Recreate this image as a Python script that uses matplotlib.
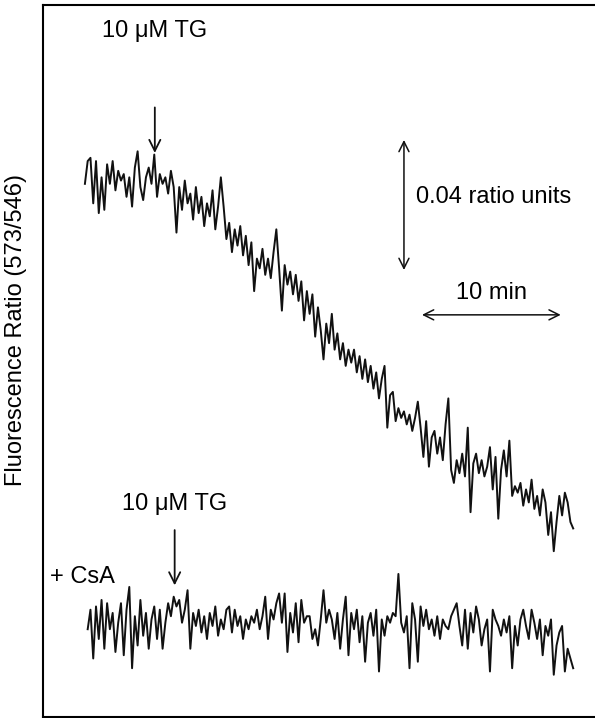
import numpy as np
import matplotlib
matplotlib.use("Agg")
import matplotlib.pyplot as plt

plt.rcParams['font.family'] = ['Liberation Sans', 'DejaVu Sans']

# fluorescence ratio traces, in units of 0.001 ratio (arbitrary offset)
# sampled every 0.2 min
dt = 0.2

# control: 10 uM TG added at ~5 min
trace_tg = [
    164, 171, 172, 158, 171, 155, 166, 156, 170, 164, 171, 162, 168, 165, 167, 160, 166,
    157, 169, 174, 163, 159, 166, 169, 164, 173, 160, 167, 164, 166, 161, 168, 163,
    149, 163, 156, 165, 158, 161, 153, 163, 155, 160, 151, 158, 154, 162, 150, 157, 166,
    157, 147, 152, 143, 150, 145, 151, 142, 148, 139, 146, 131, 141, 138, 144, 136,
    141, 135, 143, 150, 138, 125, 139, 133, 137, 130, 136, 128, 134, 122, 131,
    124, 130, 117, 126, 119, 110, 121, 115, 124, 113, 118, 110, 115, 108, 113,
    109, 113, 106, 111, 104, 110, 103, 108, 101, 106, 98, 104, 108, 89, 99,
    100, 91, 95, 92, 94, 90, 93, 88, 92, 97, 89, 80, 91, 77, 86,
    88, 81, 86, 79, 90, 98, 76, 72, 79, 75, 81, 74, 89, 63, 78, 81, 75, 79, 74, 77,
    83, 70, 80, 61, 76, 82, 74, 85, 68, 71, 69, 72, 65, 70, 66, 73, 64, 68, 62, 70,
    66, 56, 63, 51, 60, 68, 62, 69, 66, 60, 58,
]

# + CsA: 10 uM TG added at ~6.5 min, starts at 0.2 min
trace_csa = [
    27, 33, 18, 34, 24, 36, 21, 35, 27, 32,
    20, 29, 35, 19, 33, 40, 15, 31, 22, 36,
    25, 32, 21, 30, 34, 24, 33, 21, 29, 35,
    31, 37, 34, 36, 29, 33, 39, 21, 32, 28,
    33, 26, 31, 24, 32, 28, 34, 25, 30, 27,
    33, 34, 26, 33, 28, 31, 24, 30, 27, 31,
    29, 33, 27, 31, 37, 24, 33, 30, 35, 38,
    29, 38, 20, 32, 26, 35, 23, 36, 29, 31,
    31, 24, 27, 22, 30, 39, 29, 33, 30, 24,
    32, 21, 30, 37, 19, 32, 27, 33, 23, 31,
    17, 29, 32, 25, 33, 14, 30, 25, 31, 29,
    32, 31, 44, 29, 26, 31, 15, 35, 30, 17,
    34, 28, 33, 27, 30, 25, 31, 24, 30, 28,
    27, 31, 33, 35, 28, 22, 33, 21, 32, 26,
    34, 30, 22, 27, 30, 14, 33, 30, 28, 25,
    30, 26, 31, 15, 28, 22, 30, 33, 28, 24,
    33, 29, 24, 30, 19, 28, 25, 30, 13, 22,
    26, 28, 14, 21, 18, 15,
]
csa_start = 0.2

t_tg = np.arange(len(trace_tg)) * dt
t_csa = csa_start + np.arange(len(trace_csa)) * dt

fig = plt.figure(figsize=(5.95, 7.18), dpi=100)
ax = fig.add_axes([0.0723, 0.0014, 0.94, 0.9916])

ax.plot(t_tg, trace_tg, color='#111111', lw=1.4)
ax.plot(t_csa, trace_csa, color='#111111', lw=1.4)

ax.set_xlim(-3.02, 37.3)
ax.set_ylim(0, 219)
ax.set_xticks([])
ax.set_yticks([])
for s in ['top', 'left', 'bottom']:
    ax.spines[s].set_linewidth(1.5)
ax.spines['right'].set_visible(False)

fs = 17

# TG additions
ax.annotate('', xy=(5.04, 173.5), xytext=(5.04, 187.5),
            arrowprops=dict(arrowstyle='->', lw=1.3, color='#111111',
                            mutation_scale=20, shrinkA=0, shrinkB=0))
ax.text(5.04, 211, '10 μM TG', ha='center', va='center', fontsize=fs)

ax.annotate('', xy=(6.47, 40.5), xytext=(6.47, 57.5),
            arrowprops=dict(arrowstyle='->', lw=1.3, color='#111111',
                            mutation_scale=20, shrinkA=0, shrinkB=0))
ax.text(6.47, 65.5, '10 μM TG', ha='center', va='center', fontsize=fs)
ax.text(-2.55, 43, '+ CsA', ha='left', va='center', fontsize=fs)

# scale bars
ax.annotate('', xy=(23.0, 177.5), xytext=(23.0, 137.5),
            arrowprops=dict(arrowstyle='<->', lw=1.1, color='#111111',
                            mutation_scale=18, shrinkA=0, shrinkB=0))
ax.text(23.85, 160, '0.04 ratio units', ha='left', va='center', fontsize=fs)

ax.annotate('', xy=(24.3, 123.7), xytext=(34.3, 123.7),
            arrowprops=dict(arrowstyle='<->', lw=1.1, color='#111111',
                            mutation_scale=18, shrinkA=0, shrinkB=0))
ax.text(29.3, 130.5, '10 min', ha='center', va='center', fontsize=fs)

fig.text(0.027, 0.54, 'Fluorescence Ratio (573/546)', rotation=90,
         ha='center', va='center', fontsize=fs)

fig.savefig('out.png', dpi=100)
